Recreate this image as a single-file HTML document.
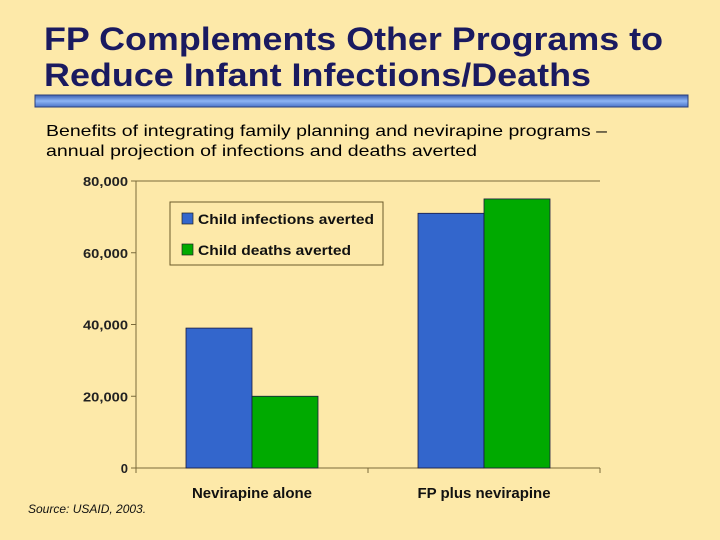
<!DOCTYPE html>
<html><head><meta charset="utf-8"><style>
body{margin:0;width:720px;height:540px;background:#fde9a9;overflow:hidden;font-family:"Liberation Sans",sans-serif;}
svg{position:absolute;left:0;top:0}
</style></head><body>
<svg width="720" height="540">
<defs><linearGradient id="rg" x1="0" y1="0" x2="0" y2="1"><stop offset="0" stop-color="#3b5fb0"/><stop offset="0.5" stop-color="#8db4f5"/><stop offset="1" stop-color="#4a72c8"/></linearGradient></defs>
<text x="44" y="50" font-size="32" font-weight="bold" fill="#1a1a60" textLength="619" lengthAdjust="spacingAndGlyphs">FP Complements Other Programs to</text>
<text x="44" y="86" font-size="32" font-weight="bold" fill="#1a1a60" textLength="547" lengthAdjust="spacingAndGlyphs">Reduce Infant Infections/Deaths</text>
<rect x="35" y="95" width="653" height="12" fill="url(#rg)" stroke="#2a3f7a" stroke-width="1"/>
<text x="46" y="136" font-size="16" fill="#000" textLength="561" lengthAdjust="spacingAndGlyphs">Benefits of integrating family planning and nevirapine programs –</text>
<text x="46" y="156" font-size="16" fill="#000" textLength="431" lengthAdjust="spacingAndGlyphs">annual projection of infections and deaths averted</text>
<g id="chart"></g>
<g>
<rect x="170" y="202" width="213" height="63" fill="#fde9a9" stroke="#6b5a2a" stroke-width="1"/>
<rect x="182" y="213" width="11" height="11" fill="#3366cc" stroke="#222" stroke-width="0.7"/>
<text x="198" y="224" font-size="14" font-weight="bold" fill="#111" textLength="176" lengthAdjust="spacingAndGlyphs">Child infections averted</text>
<rect x="182" y="244" width="11" height="11" fill="#00aa00" stroke="#222" stroke-width="0.7"/>
<text x="198" y="255" font-size="14" font-weight="bold" fill="#111" textLength="153" lengthAdjust="spacingAndGlyphs">Child deaths averted</text>
</g>
<text x="28" y="513" font-size="12" font-style="italic" fill="#111">Source: USAID, 2003.</text>
</svg>
<script>
const categories=["Nevirapine alone","FP plus nevirapine"];
const infections=[39000,71000];
const deaths=[20000,75000];
const yTicks=[0,20000,40000,60000,80000];
const yTickLabels=["0","20,000","40,000","60,000","80,000"];
const NS="http://www.w3.org/2000/svg";
const g=document.getElementById('chart');
const L=136,R=600,T=181,B=468,yMax=80000;
const y=v=>B-(v/yMax)*(B-T);
const groupW=(R-L)/categories.length;
function el(t,a){const e=document.createElementNS(NS,t);for(const k in a)e.setAttribute(k,a[k]);g.appendChild(e);return e;}
let l=el('line',{x1:L,y1:T,x2:R,y2:T,stroke:'#7a6a3a'});


l=el('line',{x1:L,y1:T,x2:L,y2:B,stroke:'#7a6a3a'});


l=el('line',{x1:L,y1:B,x2:R,y2:B,stroke:'#7a6a3a'});


yTicks.forEach((v,i)=>{
 const tk=el('line',{x1:L-5,y1:y(v),x2:L,y2:y(v),stroke:'#7a6a3a'});
 
 
 const t=el('text',{x:L-8,y:y(v)+5,'text-anchor':'end','font-size':13,'font-weight':'bold',fill:'#222'});
 t.textContent=yTickLabels[i];
 if(yTickLabels[i].length>2){t.setAttribute('textLength',45);t.setAttribute('lengthAdjust','spacingAndGlyphs');}
 
 
});
for(let i=0;i<=categories.length;i++){
 const tk=el('line',{x1:L+i*groupW,y1:B,x2:L+i*groupW,y2:B+5,stroke:'#7a6a3a'});
 
 
}
const bw=66;
categories.forEach((c,i)=>{
 const cx=L+groupW*(i+0.5);
 const b1=el('rect',{x:cx-bw,y:y(infections[i]),width:bw,height:B-y(infections[i]),fill:'#3366cc',stroke:'#1a1a40','stroke-width':0.8});
 
 
 const b2=el('rect',{x:cx,y:y(deaths[i]),width:bw,height:B-y(deaths[i]),fill:'#00aa00',stroke:'#1a1a40','stroke-width':0.8});
 
 
 const t=el('text',{x:cx,y:B+30,'text-anchor':'middle','font-size':15,'font-weight':'bold',fill:'#111'});
 t.textContent=c;
 
 
});
</script>
</body></html>
